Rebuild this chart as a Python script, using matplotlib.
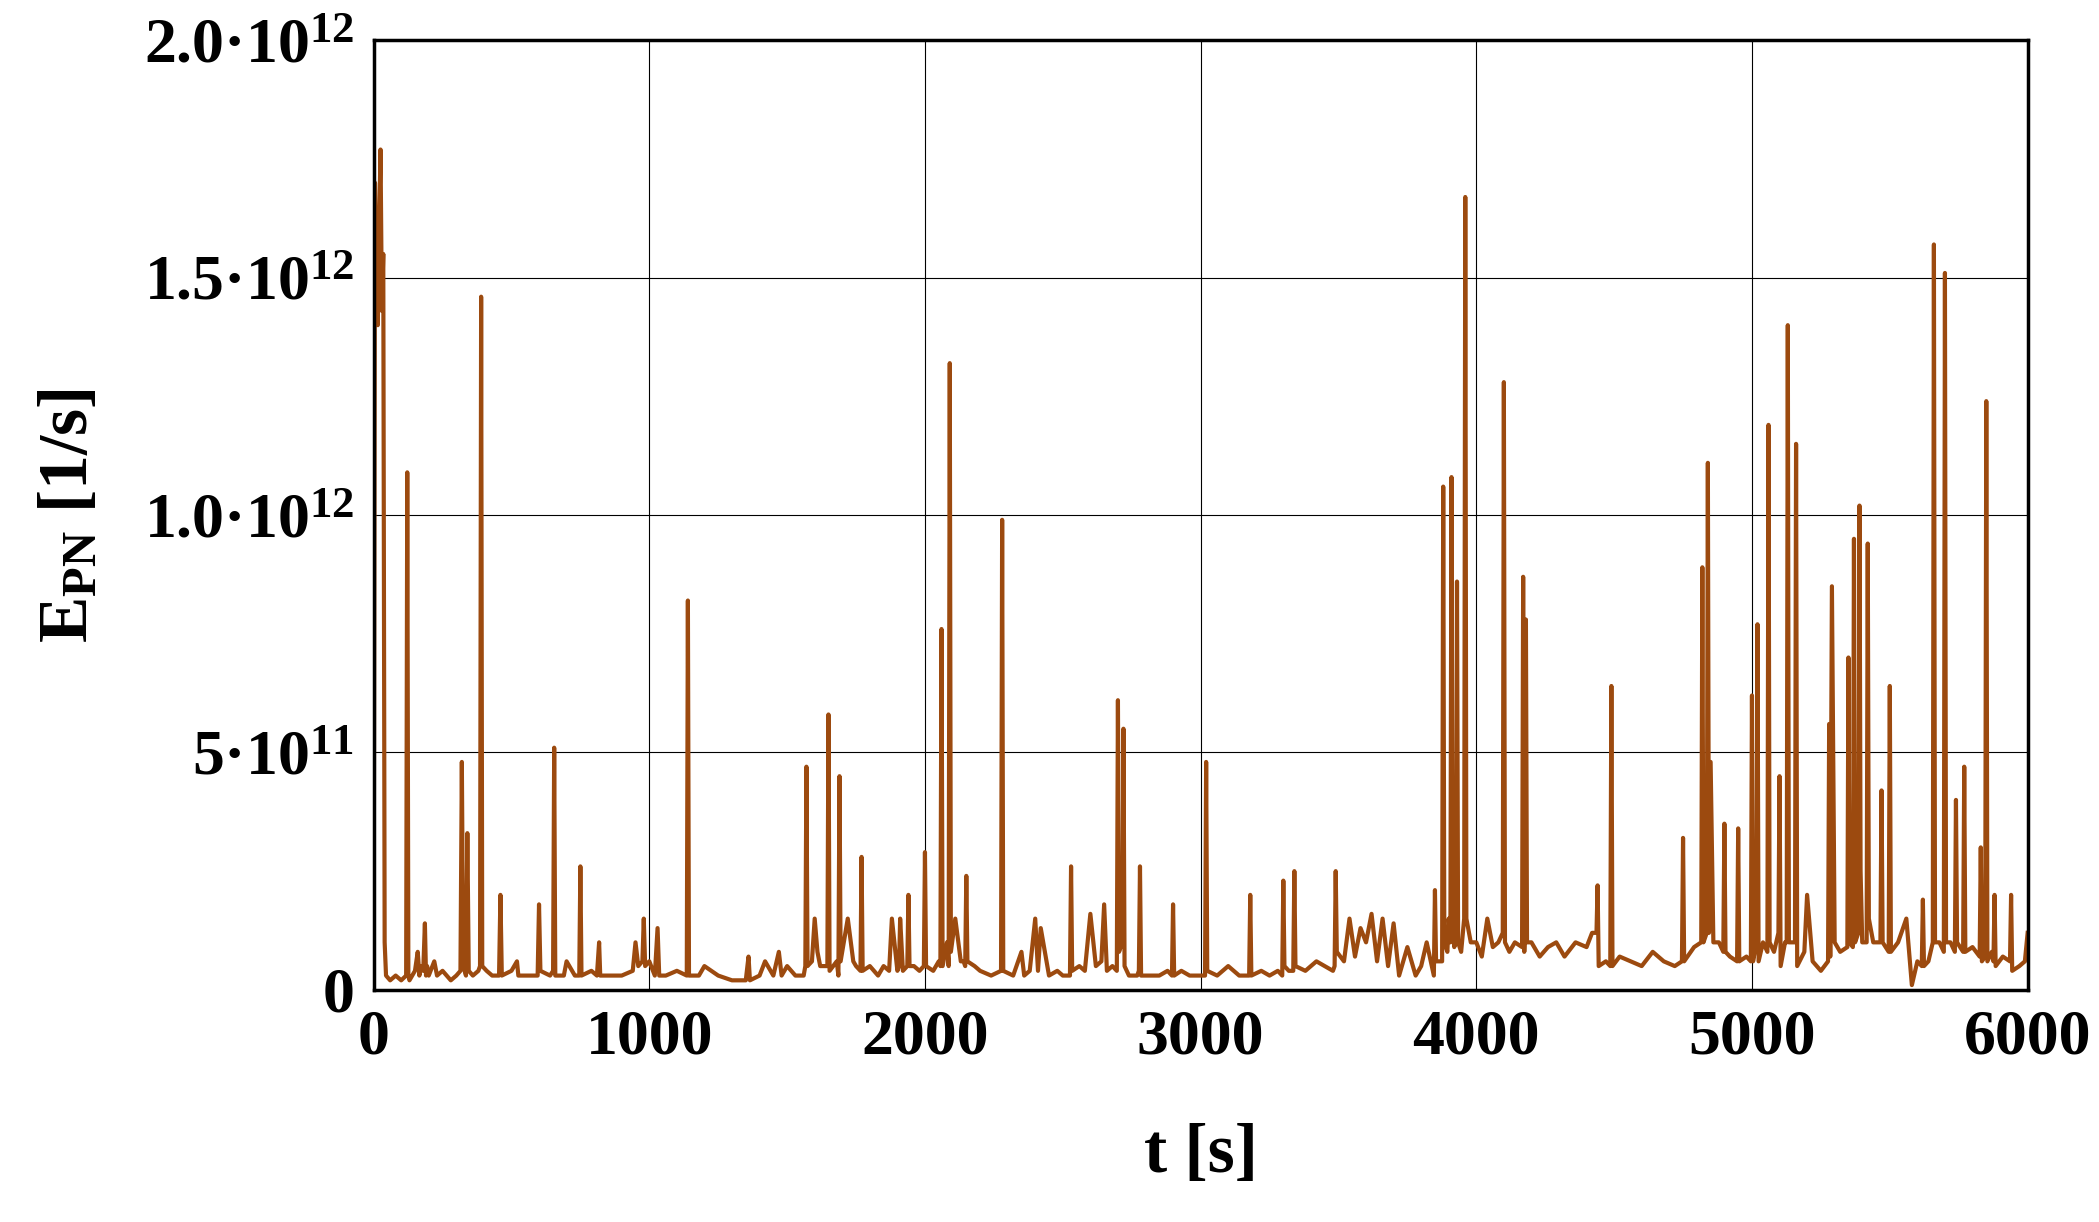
import matplotlib
matplotlib.use("Agg")
import matplotlib.pyplot as plt
import numpy as np

# (time [s], E_PN [1e11 1/s]) samples
samples = [
(0,0.3),(5,17),(10,15),(15,14),(20,16),(25,17.7),(30,14.3),(35,15.5),(40,1),(45,0.3),(60,0.2),(80,0.3),(100,0.2),
(118,0.3),(122,10.9),(126,0.3),(130,0.2),(150,0.4),(160,0.8),(166,0.3),(170,0.5),(180,0.4),(186,1.4),(190,0.3),
(194,0.5),(200,0.3),(220,0.6),(230,0.3),(250,0.4),(280,0.2),(300,0.3),(315,0.4),(320,4.8),(325,0.5),(335,0.3),
(340,3.3),(345,0.4),(360,0.3),(380,0.4),(386,0.5),(390,14.6),(394,0.5),(410,0.4),(430,0.3),(455,0.3),(460,2.0),
(465,0.3),(500,0.4),(520,0.6),(525,0.3),(560,0.3),(595,0.3),(600,1.8),(605,0.4),(640,0.3),(651,0.4),(655,5.1),
(659,0.3),(690,0.3),(700,0.6),(730,0.3),(746,0.3),(750,2.6),(754,0.3),(790,0.4),(810,0.3),(818,1.0),(822,0.3),
(870,0.3),(900,0.3),(940,0.4),(950,1.0),(960,0.5),(975,0.6),(980,1.5),(985,0.5),(1000,0.6),(1020,0.3),(1030,1.3),
(1036,0.3),(1060,0.3),(1100,0.4),(1136,0.3),(1140,8.2),(1144,0.3),(1180,0.3),(1200,0.5),(1250,0.3),(1300,0.2),
(1350,0.2),(1360,0.7),(1365,0.2),(1400,0.3),(1420,0.6),(1450,0.3),(1470,0.8),(1480,0.3),(1500,0.5),(1530,0.3),
(1560,0.3),(1566,0.5),(1570,4.7),(1574,0.5),(1590,0.6),(1600,1.5),(1610,0.8),(1620,0.5),(1646,0.5),(1650,5.8),
(1654,0.4),(1680,0.6),(1686,0.3),(1690,4.5),(1694,0.6),(1720,1.5),(1740,0.6),(1750,0.5),(1766,0.4),(1770,2.8),
(1774,0.4),(1800,0.5),(1830,0.3),(1850,0.5),(1870,0.4),(1880,1.5),(1900,0.4),(1906,0.5),(1910,1.5),(1920,0.4),
(1936,0.5),(1940,2.0),(1944,0.5),(1960,0.5),(1980,0.4),(1996,0.5),(2000,2.9),(2004,0.5),(2030,0.4),(2050,0.6),
(2056,0.5),(2060,7.6),(2064,0.5),(2080,1.0),(2086,0.5),(2090,13.2),(2094,0.8),(2110,1.5),(2130,0.6),(2140,0.6),
(2146,0.5),(2150,2.4),(2154,0.6),(2180,0.5),(2200,0.4),(2240,0.3),(2276,0.4),(2280,9.9),(2284,0.4),(2320,0.3),
(2350,0.8),(2360,0.3),(2380,0.4),(2400,1.5),(2410,0.4),(2420,1.3),(2450,0.3),(2480,0.4),(2500,0.3),(2526,0.3),
(2530,2.6),(2534,0.4),(2560,0.5),(2580,0.4),(2600,1.6),(2620,0.5),(2640,0.6),(2650,1.8),(2660,0.4),(2680,0.5),
(2696,0.4),(2700,6.1),(2704,0.8),(2716,1.0),(2720,5.5),(2724,0.5),(2740,0.3),(2770,0.3),(2776,0.4),(2780,2.6),
(2784,0.3),(2820,0.3),(2850,0.3),(2880,0.4),(2896,0.3),(2900,1.8),(2904,0.3),(2930,0.4),(2960,0.3),(3000,0.3),
(3016,0.3),(3020,4.8),(3024,0.4),(3060,0.3),(3100,0.5),(3140,0.3),(3176,0.3),(3180,2.0),(3184,0.3),(3220,0.4),
(3250,0.3),(3280,0.4),(3296,0.3),(3300,2.3),(3304,0.5),(3320,0.4),(3336,0.4),(3340,2.5),(3344,0.5),(3380,0.4),
(3420,0.6),(3450,0.5),(3480,0.4),(3486,0.5),(3490,2.5),(3494,0.8),(3520,0.6),(3540,1.5),(3560,0.7),(3580,1.3),
(3600,1.0),(3620,1.6),(3640,0.6),(3660,1.5),(3680,0.5),(3700,1.4),(3720,0.3),(3750,0.9),(3780,0.3),(3800,0.5),
(3820,1.0),(3846,0.3),(3850,2.1),(3854,0.6),(3870,0.6),(3876,0.6),(3880,10.6),(3884,1.0),(3895,0.8),(3900,1.5),
(3906,1.0),(3910,10.8),(3914,1.5),(3920,0.9),(3926,1.0),(3930,8.6),(3934,1.0),(3945,0.8),(3956,1.5),(3960,16.7),
(3964,1.5),(3980,1.0),(4000,1.0),(4020,0.7),(4040,1.5),(4060,0.9),(4080,1.0),(4096,1.2),(4100,12.8),(4104,1.0),
(4120,0.8),(4140,1.0),(4166,0.9),(4170,8.7),(4174,0.8),(4176,1.2),(4180,7.8),(4184,1.0),(4200,1.0),(4230,0.7),
(4260,0.9),(4290,1.0),(4320,0.7),(4360,1.0),(4400,0.9),(4420,1.2),(4436,1.2),(4440,2.2),(4444,0.5),(4470,0.6),
(4486,0.5),(4490,6.4),(4494,0.5),(4520,0.7),(4560,0.6),(4600,0.5),(4640,0.8),(4680,0.6),(4720,0.5),(4746,0.6),
(4750,3.2),(4754,0.6),(4790,0.9),(4816,1.0),(4820,8.9),(4824,1.0),(4836,1.2),(4840,11.1),(4844,1.2),(4850,4.8),
(4860,1.0),(4880,1.0),(4896,0.8),(4900,3.5),(4904,0.8),(4920,0.7),(4946,0.6),(4950,3.4),(4954,0.6),(4980,0.7),
(4996,0.6),(5000,6.2),(5004,0.6),(5016,1.0),(5020,7.7),(5024,0.6),(5040,1.0),(5056,0.8),(5060,11.9),(5064,1.0),
(5080,0.8),(5096,1.2),(5100,4.5),(5104,0.5),(5120,1.0),(5126,1.0),(5130,14.0),(5134,1.0),(5150,1.0),(5156,1.0),
(5160,11.5),(5164,0.5),(5190,0.8),(5200,2.0),(5220,0.6),(5250,0.4),(5276,0.6),(5280,5.6),(5284,0.7),(5290,8.5),
(5300,1.0),(5320,0.8),(5346,0.9),(5350,7.0),(5354,1.0),(5366,0.9),(5370,9.5),(5374,1.0),(5386,1.2),(5390,10.2),
(5394,2.5),(5400,1.0),(5416,1.0),(5420,9.4),(5424,1.5),(5440,1.0),(5466,1.0),(5470,4.2),(5474,1.0),(5496,0.8),
(5500,6.4),(5504,0.8),(5530,1.0),(5560,1.5),(5580,0.1),(5600,0.6),(5616,0.5),(5620,1.9),(5624,0.5),(5640,0.6),
(5656,1.0),(5660,15.7),(5664,1.0),(5680,1.0),(5696,0.8),(5700,15.1),(5704,1.0),(5720,1.0),(5736,0.8),(5740,4.0),
(5744,1.0),(5766,0.8),(5770,4.7),(5774,0.8),(5800,0.9),(5826,0.7),(5830,3.0),(5834,0.6),(5846,0.7),(5850,12.4),
(5854,0.6),(5870,0.8),(5876,0.6),(5880,2.0),(5884,0.5),(5910,0.7),(5936,0.6),(5940,2.0),(5944,0.4),(5970,0.5),
(5990,0.6),(6000,1.2),
]
t = [s[0] for s in samples]
e_1e11 = [s[1] for s in samples]

plt.rcParams['font.family'] = ['Liberation Serif', 'DejaVu Serif']
plt.rcParams['font.weight'] = 'bold'
plt.rcParams['mathtext.fontset'] = 'custom'
plt.rcParams['mathtext.rm'] = 'Liberation Serif:bold'
plt.rcParams['mathtext.it'] = 'Liberation Serif:bold'
plt.rcParams['mathtext.bf'] = 'Liberation Serif:bold'

fig = plt.figure(figsize=(20.99, 12.22), dpi=100)
ax = fig.add_axes([0.178, 0.19, 0.788, 0.777])
ax.plot(t, np.array(e_1e11) * 1e11, color='#9C4A0F', lw=3)
ax.set_xlim(0, 6000)
ax.set_ylim(0, 2e12)
ax.set_xticks(range(0, 6001, 1000))
ax.set_yticks([0, 5e11, 1e12, 1.5e12, 2e12])
ax.set_yticklabels(['0', r'5·10$^{11}$', r'1.0·10$^{12}$', r'1.5·10$^{12}$', r'2.0·10$^{12}$'])
ax.tick_params(labelsize=46, length=0, pad=14)
for lab in ax.get_xticklabels() + ax.get_yticklabels():
    lab.set_fontweight('bold')
ax.grid(True, color='black', lw=0.8)
for s in ax.spines.values():
    s.set_linewidth(2.5)
ax.set_xlabel('t [s]', fontsize=50, fontweight='bold', labelpad=40)
ax.set_ylabel(r'E$_{\mathrm{PN}}$ [1/s]', fontsize=50, fontweight='bold', labelpad=30)
fig.savefig('out.png', dpi=100)
